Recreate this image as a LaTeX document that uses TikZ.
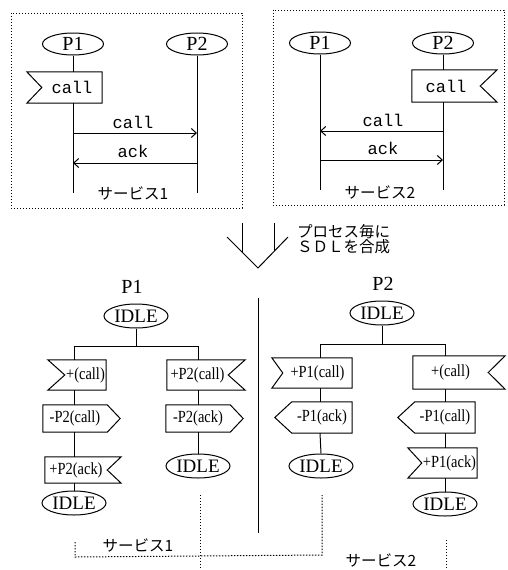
\documentclass[tikz,border=0pt]{standalone}
\usepackage{fontspec}
\setmainfont{Liberation Serif}
\setmonofont{Liberation Mono}
\newfontfamily\jpfont{Noto Sans CJK JP}
\newfontfamily\sigfam[FakeStretch=0.85]{Liberation Serif}
\usetikzlibrary{shapes.geometric,arrows.meta}
\begin{document}
\begin{tikzpicture}[x=1pt,y=-1pt,
  ln/.style={line width=1pt},
  dots/.style={line width=1pt, dash pattern=on 1.4pt off 1.6pt},
  msg/.style={line width=1pt, -{Straight Barb[length=5pt,width=9pt]}},
  proc/.style={ellipse, draw, line width=1pt, inner sep=0pt, minimum width=61pt, minimum height=22pt, font=\fontsize{20}{20}\selectfont},
  idle/.style={ellipse, draw, line width=1pt, inner sep=0pt, minimum width=64pt, minimum height=24pt, font=\fontsize{19}{19}\selectfont},
  flag/.style={rectangle, inner sep=0pt, font=\ttfamily\fontsize{17}{17}\selectfont},
  mono/.style={inner sep=0pt, font=\ttfamily\fontsize{17}{17}\selectfont},
  sig/.style={rectangle, inner sep=0pt, font=\sigfam\fontsize{17}{17}\selectfont},
  jp/.style={inner sep=0pt, font=\jpfont\fontsize{15.5}{15.5}\selectfont},
  title/.style={inner sep=0pt, font=\fontsize{20}{20}\selectfont}]
\useasboundingbox (0,0) rectangle (508,570);

% ---------- top left: service 1 ----------
\draw[dots] (11,13) rectangle (242,208);
\node[proc] (aP1) at (73,44) {P1};
\node[proc] (aP2) at (197,44) {P2};
\node[flag, minimum width=60pt, minimum height=31pt] (fA) at (72,87.5) {call};
\coordinate (eA1) at (73,193);
\coordinate (eA2) at (197,193);
\draw[ln] (aP1.south) -- (fA.north -| aP1);
\draw[ln] (fA.south -| aP1) -- (eA1);
\draw[ln] (aP2.south) -- (eA2);
\coordinate (mA1) at (73,133);
\coordinate (mA2) at (197,133);
\coordinate (kA1) at (73,163);
\coordinate (kA2) at (197,163);
\draw[msg] (mA1) -- (mA2);
\draw[msg] (kA2) -- (kA1);
\node[mono] (lA1) at (133,122) {call};
\node[mono] (lA2) at (133,151) {ack};
\node[jp] (sA) at (133,193) {サービス1};

% ---------- top right: service 2 ----------
\draw[dots] (273,10) rectangle (504,205);
\node[proc] (bP1) at (320,43) {P1};
\node[proc] (bP2) at (443,43) {P2};
\node[flag, minimum width=68pt, minimum height=32pt] (fB) at (446,86) {call};
\coordinate (eB1) at (320,190);
\coordinate (eB2) at (443,190);
\draw[ln] (bP1.south) -- (eB1);
\draw[ln] (bP2.south) -- (fB.north -| bP2);
\draw[ln] (fB.south -| bP2) -- (eB2);
\coordinate (mB1) at (320,131);
\coordinate (mB2) at (443,131);
\coordinate (kB1) at (320,160);
\coordinate (kB2) at (443,160);
\draw[msg] (mB2) -- (mB1);
\draw[msg] (kB1) -- (kB2);
\node[mono] (lB1) at (383,120) {call};
\node[mono] (lB2) at (383,148) {ack};
\node[jp] (sB) at (380,192) {サービス2};

% flag outlines (input signals)
\foreach \n/\d in {fA/15pt} {
  \draw[ln] ([xshift=-\d]\n.north west) -- (\n.north east) -- (\n.south east) -- ([xshift=-\d]\n.south west) -- (\n.west) -- cycle;
}
\foreach \n/\d in {fB/17pt} {
  \draw[ln] ([xshift=\d]\n.north east) -- (\n.north west) -- (\n.south west) -- ([xshift=\d]\n.south east) -- (\n.east) -- cycle;
}

% ---------- middle arrow ----------
\draw[ln] (242,223) -- (242,252);
\draw[ln] (274,223) -- (274,251);
\draw[ln] (227,237) -- (258,268) -- (288,237);
\node[jp, anchor=west] (t1) at (297,232) {プロセス毎に};
\node[jp, anchor=west] (t2) at (297,247) {ＳＤＬを合成};

% ---------- bottom ----------
\node[title] (tP1) at (132,287) {P1};
\node[title] (tP2) at (383,284) {P2};
\draw[ln] (258,298) -- (258,533);

\node[idle] (I1) at (136,316) {IDLE};
\node[idle] (I2) at (382,313) {IDLE};
\coordinate (sL) at (74,346);
\coordinate (sR) at (198,346);
\coordinate (sM) at (320,344);
\coordinate (sN) at (445,344);

\node[sig, minimum width=41pt, minimum height=30pt] (L1) at (85.5,375) {+(call)};
\node[sig, minimum width=64pt, minimum height=27pt] (L2) at (75,418.5) {-P2(call)};
\node[sig, minimum width=62pt, minimum height=26pt] (L3) at (76,470) {+P2(ack)};
\node[idle] (L4) at (74,503) {IDLE};

\node[sig, minimum width=61pt, minimum height=30pt] (R1) at (197.5,375) {+P2(call)};
\node[sig, minimum width=64pt, minimum height=27pt] (R2) at (198,418.5) {-P2(ack)};
\node[idle] (R3) at (198,466) {IDLE};

\node[sig, minimum width=69pt, minimum height=30pt] (M1) at (317.5,373) {+P1(call)};
\node[sig, minimum width=60pt, minimum height=31pt] (M2) at (322,417.5) {-P1(ack)};
\node[idle] (M3) at (321,466) {IDLE};

\node[sig, minimum width=75pt, minimum height=33pt] (N1) at (450.5,372.5) {+(call)};
\node[sig, minimum width=60pt, minimum height=31pt] (N2) at (445,417.5) {-P1(call)};
\node[sig, minimum width=55pt, minimum height=30pt] (N3) at (449.5,463) {+P1(ack)};
\node[idle] (N4) at (445,504) {IDLE};

% input signal, notch on the left
\foreach \n/\d in {L1/17pt, M1/11pt, N3/14pt} {
  \draw[ln] ([xshift=-\d]\n.north west) -- (\n.north east) -- (\n.south east) -- ([xshift=-\d]\n.south west) -- (\n.west) -- cycle;
}
% input signal, notch on the right
\foreach \n/\d in {L3/14pt, R1/17pt, N1/17pt} {
  \draw[ln] ([xshift=\d]\n.north east) -- (\n.north west) -- (\n.south west) -- ([xshift=\d]\n.south east) -- (\n.east) -- cycle;
}
% output signal, pointing right
\foreach \n/\d in {L2/13pt, R2/13pt} {
  \draw[ln] (\n.north west) -- (\n.north east) -- ([xshift=\d]\n.east) -- (\n.south east) -- (\n.south west) -- cycle;
}
% output signal, pointing left
\foreach \n/\d in {M2/17pt, N2/17pt} {
  \draw[ln] (\n.north east) -- (\n.north west) -- ([xshift=-\d]\n.west) -- (\n.south west) -- (\n.south east) -- cycle;
}

% branches
\draw[ln] (I1.south) -- (I1 |- sL);
\draw[ln] (L1.north -| sL) -- (sL) -- (sR) -- (R1.north -| sR);
\draw[ln] (I2.south) -- (I2 |- sM);
\draw[ln] (M1.north -| sM) -- (sM) -- (sN) -- (N1.north -| sN);

% stems
\draw[ln] (L1.south -| sL) -- (L2.north -| sL);
\draw[ln] (L2.south -| sL) -- (L3.north -| sL);
\draw[ln] (L3.south -| sL) -- (L4.north);
\draw[ln] (R1.south -| sR) -- (R2.north -| sR);
\draw[ln] (R2.south -| sR) -- (R3.north);
\draw[ln] (M1.south -| sM) -- (M2.north -| sM);
\draw[ln] (M2.south -| sM) -- (M3.north);
\draw[ln] (N1.south -| sN) -- (N2.north -| sN);
\draw[ln] (N2.south -| sN) -- (N3.north -| sN);
\draw[ln] (N3.south -| sN) -- (N4.north);

% service boundaries
\coordinate (d1a) at (200,495);
\coordinate (d1b) at (200,570);
\draw[dots] (d1a) -- (d1b);
\coordinate (d2a) at (75,542);
\coordinate (d2b) at (75,557);
\coordinate (d2c) at (322,555);
\coordinate (d2d) at (322,495);
\draw[dots] (d2a) -- (d2b) -- (d2c) -- (d2d);
\coordinate (d3a) at (446,540);
\coordinate (d3b) at (446,570);
\draw[dots] (d3a) -- (d3b);
\node[jp] (sC) at (138,545) {サービス1};
\node[jp] (sD) at (381,560) {サービス2};
\end{tikzpicture}
\end{document}
